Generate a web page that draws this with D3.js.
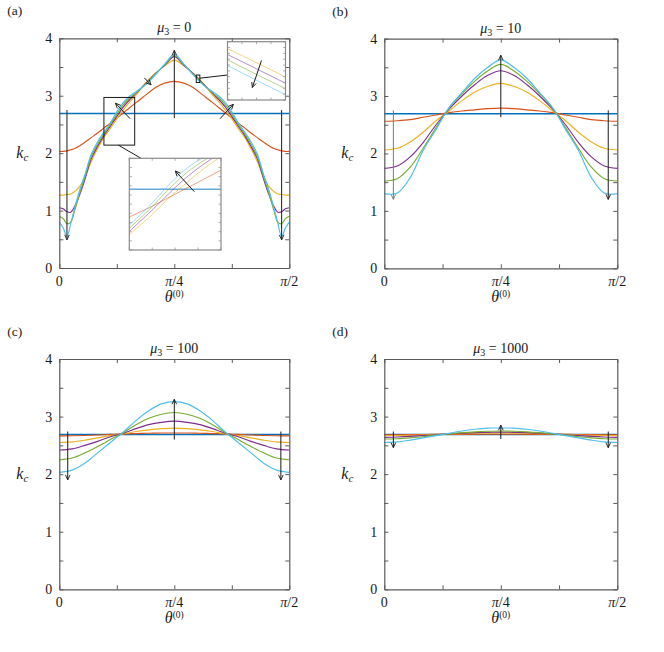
<!DOCTYPE html>
<html><head><meta charset="utf-8">
<script src="https://cdn.jsdelivr.net/npm/d3@7"></script>
<style>
body{margin:0;background:#fff}
svg{display:block}
text{font-family:"Liberation Serif","DejaVu Serif",serif;fill:#1a1a1a}
</style>
</head><body>
<svg id="c" width="664" height="652"></svg>
<script>
// ---------- DATA (theta in degrees, 0..90 = 0..pi/2) ----------
const THETA_END = [0, 90];
const THETA_A = [0,1.5,3,4.5,6,8,10,12.5,15,17.5,20,22.5,25,27.5,30,33.75,37.5,41.25,45,48.75,52.5,56.25,60,62.5,65,67.5,70,72.5,75,77.5,80,82,84,85.5,87,88.5,90];
const THETA_BCD = [0,5,10,15,20,25,30,35,40,45,50,55,60,65,70,75,80,85,90];

const SERIES_COLORS = ["#0072BD","#D95319","#EDB120","#7E2F8E","#77AC30","#4DBEEE"];
const Y_TICKS = [0,0.5,1,1.5,2,2.5,3,3.5,4];
const Y_TICK_LABELS = ["0","","1","","2","","3","","4"];
const X_TICKS = [0,22.5,45,67.5,90];
const X_TICK_LABELS = ["0","","π/4","","π/2"];
const MU_VALUES = ["0","10","100","1000"];
const PANEL_LETTERS = ["(a)","(b)","(c)","(d)"];

// mu3 = 0
const mu0_blue   = [2.69, 2.69];
const mu0_orange = [2.03,2.03,2.04,2.06,2.08,2.13,2.19,2.27,2.35,2.44,2.52,2.61,2.70,2.79,2.88,3.01,3.14,3.22,3.25,3.22,3.14,3.01,2.88,2.79,2.70,2.61,2.52,2.44,2.35,2.27,2.19,2.13,2.08,2.06,2.04,2.03,2.03];
const mu0_yellow = [1.27,1.27,1.28,1.29,1.33,1.42,1.58,1.85,2.08,2.28,2.43,2.60,2.75,2.89,3.01,3.22,3.39,3.52,3.62,3.52,3.39,3.22,3.01,2.89,2.75,2.60,2.43,2.28,2.08,1.85,1.58,1.42,1.33,1.29,1.28,1.27,1.27];
const mu0_purple = [1.05,1.03,0.98,0.97,1.07,1.28,1.54,1.90,2.12,2.31,2.47,2.64,2.80,2.93,3.04,3.21,3.38,3.53,3.68,3.53,3.38,3.21,3.04,2.93,2.80,2.64,2.47,2.31,2.12,1.90,1.54,1.28,1.07,0.97,0.98,1.03,1.05];
const mu0_green  = [0.90,0.86,0.77,0.80,1.00,1.30,1.58,1.94,2.16,2.34,2.50,2.68,2.84,2.96,3.05,3.20,3.37,3.54,3.70,3.54,3.37,3.20,3.05,2.96,2.84,2.68,2.50,2.34,2.16,1.94,1.58,1.30,1.00,0.80,0.77,0.86,0.90];
const mu0_cyan   = [0.80,0.70,0.55,0.78,1.04,1.36,1.62,1.98,2.20,2.37,2.53,2.72,2.88,2.99,3.07,3.19,3.36,3.55,3.72,3.55,3.36,3.19,3.07,2.99,2.88,2.72,2.53,2.37,2.20,1.98,1.62,1.36,1.04,0.78,0.55,0.70,0.80];

// mu3 = 10
const mu10_blue   = [2.69, 2.69];
const mu10_orange = [2.56,2.57,2.59,2.63,2.67,2.71,2.74,2.76,2.78,2.79,2.78,2.76,2.74,2.71,2.67,2.63,2.59,2.57,2.56];
const mu10_yellow = [2.06,2.09,2.20,2.37,2.57,2.74,2.92,3.07,3.17,3.22,3.17,3.07,2.92,2.74,2.57,2.37,2.20,2.09,2.06];
const mu10_purple = [1.74,1.78,1.94,2.19,2.50,2.77,3.00,3.20,3.36,3.44,3.36,3.20,3.00,2.77,2.50,2.19,1.94,1.78,1.74];
const mu10_green  = [1.52,1.56,1.76,2.09,2.45,2.79,3.04,3.26,3.44,3.55,3.44,3.26,3.04,2.79,2.45,2.09,1.76,1.56,1.52];
const mu10_cyan   = [1.30,1.31,1.58,2.05,2.42,2.80,3.06,3.31,3.50,3.63,3.50,3.31,3.06,2.80,2.42,2.05,1.58,1.31,1.30];

// mu3 = 100
const mu100_blue   = [2.69, 2.69];
const mu100_orange = [2.665,2.667,2.672,2.68,2.69,2.70,2.705,2.71,2.715,2.715,2.715,2.71,2.705,2.70,2.69,2.68,2.672,2.667,2.665];
const mu100_yellow = [2.55,2.56,2.59,2.63,2.67,2.70,2.74,2.77,2.79,2.80,2.79,2.77,2.74,2.70,2.67,2.63,2.59,2.56,2.55];
const mu100_purple = [2.42,2.44,2.50,2.57,2.65,2.71,2.79,2.86,2.90,2.92,2.90,2.86,2.79,2.71,2.65,2.57,2.50,2.44,2.42];
const mu100_green  = [2.25,2.28,2.37,2.48,2.60,2.72,2.86,2.97,3.04,3.07,3.04,2.97,2.86,2.72,2.60,2.48,2.37,2.28,2.25];
const mu100_cyan   = [2.03,2.07,2.19,2.37,2.55,2.73,2.93,3.10,3.22,3.26,3.22,3.10,2.93,2.73,2.55,2.37,2.19,2.07,2.03];

// mu3 = 1000
const mu1000_blue   = [2.69, 2.69];
const mu1000_orange = [2.685,2.685,2.687,2.689,2.69,2.69,2.691,2.692,2.693,2.693,2.693,2.692,2.691,2.69,2.69,2.689,2.687,2.685,2.685];
const mu1000_yellow = [2.67,2.672,2.675,2.68,2.69,2.70,2.705,2.71,2.712,2.714,2.712,2.71,2.705,2.70,2.69,2.68,2.675,2.672,2.67];
const mu1000_purple = [2.64,2.645,2.655,2.67,2.685,2.70,2.71,2.72,2.725,2.73,2.725,2.72,2.71,2.70,2.685,2.67,2.655,2.645,2.64];
const mu1000_green  = [2.61,2.615,2.63,2.65,2.68,2.70,2.72,2.735,2.745,2.75,2.745,2.735,2.72,2.70,2.68,2.65,2.63,2.615,2.61];
const mu1000_cyan   = [2.55,2.56,2.59,2.63,2.67,2.71,2.75,2.78,2.80,2.80,2.80,2.78,2.75,2.71,2.67,2.63,2.59,2.56,2.55];

// annotation arrows [theta1, k1, theta2, k2] (data units)
const ARROWS_A = [[3,2.75,3,0.49],[87,2.75,87,0.49],[45,2.61,45,3.79],[27.7,2.60,22,2.87],[62.9,2.60,68.1,2.85],[33.3,3.31,35.9,3.19]];
const ARROWS_B = [[3.5,2.75,3.5,1.2],[86.5,2.75,86.5,1.2],[45,2.63,45,3.71]];
const ARROWS_C = [[3.3,2.74,3.3,1.9],[86.7,2.74,86.7,1.9],[45,2.6,45,3.30]];
const ARROWS_D = [[3.5,2.74,3.5,2.46],[86.5,2.74,86.5,2.46],[45,2.61,45,2.85]];

// zoom insets of panel (a): domains (data units)
const INSET1_THETA = [17.46, 29.5];
const INSET1_K = [2.14, 2.97];
const INSET1_ARROW = [26.0, 2.668, 23.5, 2.855];
const INSET2_THETA = [53.6, 55.0];
const INSET2_K = [3.23, 3.36];
const INSET2_ARROW = [54.42, 3.318, 54.2, 3.258];

// ---------- DRAWING ----------
const svg = d3.select("#c");
const defs = svg.append("defs");
function addMarker(id, color){
  defs.append("marker").attr("id",id).attr("viewBox","-8 -5 10 10")
    .attr("refX",0).attr("refY",0).attr("markerWidth",10).attr("markerHeight",10)
    .attr("markerUnits","userSpaceOnUse").attr("orient","auto")
    .append("path").attr("d","M-5,-2.3L0,0L-5,2.3").attr("fill","none").attr("stroke",color).attr("stroke-width",0.9);
}
addMarker("ah","#1a1a1a");
addMarker("ahg","#7a7a7a");

const PANELS = [
  {x:59.3, y:38.3, w:230, h:229.7, theta:THETA_A, series:[mu0_blue,mu0_orange,mu0_yellow,mu0_purple,mu0_green,mu0_cyan], arrows:ARROWS_A},
  {x:384.3, y:38.6, w:233, h:229.7, theta:THETA_BCD, series:[mu10_blue,mu10_orange,mu10_yellow,mu10_purple,mu10_green,mu10_cyan], arrows:ARROWS_B},
  {x:59.3, y:359, w:230, h:230.3, theta:THETA_BCD, series:[mu100_blue,mu100_orange,mu100_yellow,mu100_purple,mu100_green,mu100_cyan], arrows:ARROWS_C},
  {x:384.3, y:359, w:233, h:230.3, theta:THETA_BCD, series:[mu1000_blue,mu1000_orange,mu1000_yellow,mu1000_purple,mu1000_green,mu1000_cyan], arrows:ARROWS_D}
];

const AX = "#5a5a5a";
const FS = 14;

function styleAxis(sel){
  sel.attr("font-family",null).attr("font-size",FS);
  sel.selectAll(".domain").attr("stroke",AX).attr("stroke-width",1.2);
  sel.selectAll(".tick line").attr("stroke",AX).attr("stroke-width",1);
  sel.selectAll(".tick text").attr("fill","#1a1a1a");
}

function drawSeries(g, sx, sy, p, width, opacity){
  const line = d3.line().x(d=>sx(d[0])).y(d=>sy(d[1])).curve(d3.curveCatmullRom.alpha(0.5));
  p.series.forEach((s,i)=>{
    const th = s.length === 2 ? THETA_END : p.theta;
    g.append("path").datum(th.map((t,j)=>[t,s[j]])).attr("d",line)
      .attr("fill","none").attr("stroke",SERIES_COLORS[i])
      .attr("stroke-width", i===0 ? width+0.4 : width).attr("opacity",opacity);
  });
}

function arrow(g, sx, sy, a, gray){
  g.append("line").attr("x1",sx(a[0])).attr("y1",sy(a[1])).attr("x2",sx(a[2])).attr("y2",sy(a[3]))
    .attr("stroke",gray ? "#7a7a7a" : "#1a1a1a").attr("stroke-width",1)
    .attr("marker-end", gray ? "url(#ahg)" : "url(#ah)");
}

PANELS.forEach((p,pi)=>{
  const g = svg.append("g");
  const x = d3.scaleLinear().domain([0,90]).range([p.x,p.x+p.w]);
  const y = d3.scaleLinear().domain([0,4]).range([p.y+p.h,p.y]);
  p.sx = x; p.sy = y;

  drawSeries(g, x, y, p, 1.15, 1);

  // axes (ticks inward)
  const left = g.append("g").attr("transform",`translate(${p.x},0)`)
    .call(d3.axisLeft(y).tickValues(Y_TICKS).tickSizeInner(-4).tickSizeOuter(0).tickPadding(7)
      .tickFormat((d,i)=>Y_TICK_LABELS[i]));
  styleAxis(left);
  const right = g.append("g").attr("transform",`translate(${p.x+p.w},0)`)
    .call(d3.axisRight(y).tickValues(Y_TICKS).tickSizeInner(-4).tickSizeOuter(0).tickFormat(""));
  styleAxis(right);
  const bottom = g.append("g").attr("transform",`translate(0,${p.y+p.h})`)
    .call(d3.axisBottom(x).tickValues(X_TICKS).tickSizeInner(-4).tickSizeOuter(0).tickFormat(""));
  styleAxis(bottom);
  const top = g.append("g").attr("transform",`translate(0,${p.y})`)
    .call(d3.axisTop(x).tickValues(X_TICKS).tickSizeInner(-4).tickSizeOuter(0).tickFormat(""));
  styleAxis(top);

  // x tick labels
  X_TICKS.forEach((v,i)=>{
    const s = X_TICK_LABELS[i];
    if (!s) return;
    const t = svg.append("text").attr("x",x(v)).attr("y",p.y+p.h+18).attr("text-anchor","middle").attr("font-size",FS);
    if (s.startsWith("π")) {
      t.append("tspan").attr("font-style","italic").text("π");
      t.append("tspan").text(s.slice(1));
    } else t.text(s);
  });

  // arrows
  p.arrows.forEach((a,ai)=>arrow(g, x, y, a, pi===1 && ai===0));

  // texts
  svg.append("text").attr("x",p.x-52).attr("y",p.y-23).attr("font-size",13.5).text(PANEL_LETTERS[pi]);
  const tt = svg.append("text").attr("x",p.x+p.w/2).attr("y",p.y-6).attr("text-anchor","middle").attr("font-size",FS);
  tt.append("tspan").attr("font-style","italic").text("μ");
  tt.append("tspan").attr("font-size",10).attr("dy",3).text("3");
  tt.append("tspan").attr("dy",-3).text(" = " + MU_VALUES[pi]);
  const kl = svg.append("text").attr("x",p.x-37).attr("y",p.y+p.h*0.52).attr("text-anchor","middle").attr("font-size",16);
  kl.append("tspan").attr("font-style","italic").text("k");
  kl.append("tspan").attr("font-style","italic").attr("font-size",11).attr("dy",3).text("c");
  const xl = svg.append("text").attr("x",p.x+p.w/2).attr("y",p.y+p.h+34).attr("text-anchor","middle").attr("font-size",16);
  xl.append("tspan").attr("font-style","italic").text("θ");
  xl.append("tspan").attr("font-size",9.5).attr("dy",-5.5).text("(0)");
});

// ---------- insets of panel (a) ----------
function drawInset(id, rect, thDom, kDom, arrowData, conn){
  const P = PANELS[0];
  const g = svg.append("g");
  g.append("rect").attr("x",P.sx(thDom[0])).attr("y",P.sy(kDom[1]))
    .attr("width",P.sx(thDom[1])-P.sx(thDom[0])).attr("height",P.sy(kDom[0])-P.sy(kDom[1]))
    .attr("fill","none").attr("stroke","#1a1a1a").attr("stroke-width",1);
  g.append("line").attr("x1",conn[0]).attr("y1",conn[1]).attr("x2",conn[2]).attr("y2",conn[3])
    .attr("stroke","#1a1a1a").attr("stroke-width",1);
  const xi = d3.scaleLinear().domain(thDom).range([rect.x, rect.x+rect.w]);
  const yi = d3.scaleLinear().domain(kDom).range([rect.y+rect.h, rect.y]);
  defs.append("clipPath").attr("id",id).append("rect")
    .attr("x",rect.x).attr("y",rect.y).attr("width",rect.w).attr("height",rect.h);
  g.append("rect").attr("x",rect.x).attr("y",rect.y).attr("width",rect.w).attr("height",rect.h)
    .attr("fill","#fff");
  const cg = g.append("g").attr("clip-path",`url(#${id})`);
  drawSeries(cg, xi, yi, P, 0.9, 0.6);
  const tg = g.append("g").attr("stroke","#9a9a9a").attr("stroke-width",0.8);
  d3.range(5).forEach(i=>{
    const xx = rect.x + i*rect.w/4;
    tg.append("line").attr("x1",xx).attr("x2",xx).attr("y1",rect.y+rect.h).attr("y2",rect.y+rect.h-2.5);
    tg.append("line").attr("x1",xx).attr("x2",xx).attr("y1",rect.y).attr("y2",rect.y+2.5);
  });
  d3.range(11).forEach(i=>{
    const yy = rect.y + i*rect.h/10;
    tg.append("line").attr("x1",rect.x).attr("x2",rect.x+2.5).attr("y1",yy).attr("y2",yy);
    tg.append("line").attr("x1",rect.x+rect.w).attr("x2",rect.x+rect.w-2.5).attr("y1",yy).attr("y2",yy);
  });
  g.append("rect").attr("x",rect.x).attr("y",rect.y).attr("width",rect.w).attr("height",rect.h)
    .attr("fill","none").attr("stroke","#8a8a8a").attr("stroke-width",1.2);
  arrow(g, xi, yi, arrowData);
}

const P0 = PANELS[0];
drawInset("clip1", {x:129.3, y:158.3, w:91.7, h:91.7}, INSET1_THETA, INSET1_K, INSET1_ARROW,
  [P0.sx(23.1), P0.sy(INSET1_K[0]), 141, 158.3]);
drawInset("clip2", {x:227.5, y:41.7, w:58, h:58.3}, INSET2_THETA, INSET2_K, INSET2_ARROW,
  [P0.sx(INSET2_THETA[1]), P0.sy(3.305), 227.5, 75]);
</script>
</body></html>
